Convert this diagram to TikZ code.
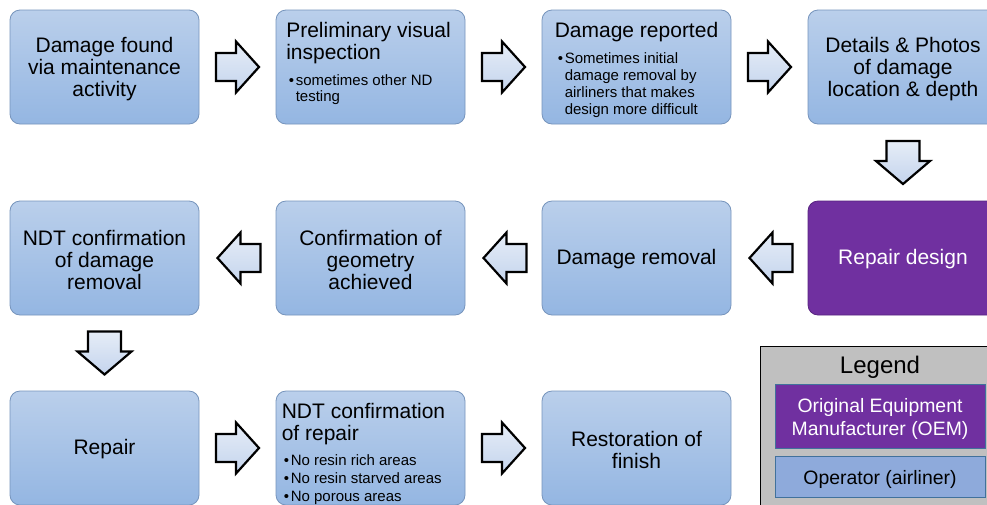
\documentclass[tikz,border=0pt]{standalone}
\usepackage{fontspec}
\setmainfont{Liberation Sans}
\usetikzlibrary{calc}
\definecolor{boxtop}{RGB}{186,207,235}
\definecolor{boxbot}{RGB}{148,182,226}
\definecolor{boxborder}{RGB}{118,148,188}
\definecolor{oem}{RGB}{112,48,160}
\definecolor{oemborder}{RGB}{88,36,128}
\definecolor{arrtop}{RGB}{230,237,247}
\definecolor{arrbot}{RGB}{196,212,237}
\definecolor{leggray}{RGB}{192,192,192}
\definecolor{legborder}{RGB}{65,113,156}
\definecolor{operfill}{RGB}{142,170,219}
\newcommand{\bigtxt}{\fontsize{21}{22}\selectfont}
\newcommand{\smtxt}{\fontsize{15}{16.4}\selectfont}
\newcommand{\bl}{\makebox[7pt][l]{\textbullet}}
\newcommand{\barrow}[4]{%
  \begin{scope}[shift={(#1)},rotate=#2]
    \draw[blockarr] (-21.5,-#3) -- (-1.5,-#3) -- (-1.5,-#4) -- (21.5,0) -- (-1.5,#4) -- (-1.5,#3) -- (-21.5,#3) -- cycle;
  \end{scope}}
\begin{document}
\begin{tikzpicture}[x=1pt,y=-1pt,
  bluebox/.style={draw=boxborder, line width=0.8pt, rounded corners=10pt,
    top color=boxtop, bottom color=boxbot, minimum width=189pt,
    minimum height=114pt, inner sep=0pt},
  purplebox/.style={draw=oemborder, line width=0.8pt, rounded corners=10pt,
    fill=oem, minimum width=190pt, minimum height=114pt, inner sep=0pt},
  ctxt/.style={inner sep=0pt, align=center, font=\bigtxt},
  ttl/.style={anchor=north west, inner sep=0pt, font=\bigtxt},
  bul/.style={anchor=north west, inner sep=0pt, font=\smtxt},
  blockarr/.style={draw=black, line width=2.2pt, line join=miter,
    top color=arrtop, bottom color=arrbot}]
\useasboundingbox (0,0) rectangle (987,504);
\clip (0,0) rectangle (987,504);
\fill[white] (0,0) rectangle (987,504);

% row 1
\node[bluebox] (b1) at (104.5,67) {};
\node[ctxt] (b1t) at ($(b1)+(0,2)$) {Damage found\\via maintenance\\activity};
\node[bluebox] (b2) at (370.5,67) {};
\node[ttl] (t2) at ($(b2.north west)+(10.5,12.6)$) {\begin{tabular}{@{}l@{}}Preliminary visual\\inspection\end{tabular}};
\node[bul] (l2) at ($(b2.north west)+(13,64.3)$) {\begin{tabular}{@{}l@{}l@{}}\bl&sometimes other ND\\&testing\end{tabular}};
\node[bluebox] (b3) at (636.5,67) {};
\node[ttl] (t3) at ($(b3.north west)+(13,12)$) {\begin{tabular}{@{}l@{}}Damage reported\end{tabular}};
\node[bul] (l3) at ($(b3.north west)+(16,41.5)$) {\fontsize{15}{17.2}\selectfont\begin{tabular}{@{}l@{}l@{}}\bl&Sometimes initial\\&damage removal by\\&airliners that makes\\&design more difficult\end{tabular}};
\node[bluebox, minimum width=190pt] (b4) at (903,67) {};
\node[ctxt] (b4t) at ($(b4)+(0,2)$) {Details \& Photos\\of damage\\location \& depth};

% row 2
\node[purplebox] (b5) at (903,258) {};
\node[ctxt, text=white] (b5t) at ($(b5)+(0,1.5)$) {Repair design};
\node[bluebox] (b6) at (636.5,258) {};
\node[ctxt] (b6t) at ($(b6)+(0,1.5)$) {Damage removal};
\node[bluebox] (b7) at (370.5,258) {};
\node[ctxt] (b7t) at ($(b7)+(0,2)$) {Confirmation of\\geometry\\achieved};
\node[bluebox] (b8) at (104.5,258) {};
\node[ctxt] (b8t) at ($(b8)+(0,2)$) {NDT confirmation\\of damage\\removal};

% row 3
\node[bluebox] (b9) at (104.5,448) {};
\node[ctxt] (b9t) at ($(b9)+(0,1.5)$) {Repair};
\node[bluebox] (b10) at (370.5,448) {};
\node[ttl] (t10) at ($(b10.north west)+(6,12)$) {\begin{tabular}{@{}l@{}}NDT confirmation\\of repair\end{tabular}};
\node[bul] (l10) at ($(b10.north west)+(8,63)$) {\begin{tabular}{@{}l@{}l@{}}\bl&No resin rich areas\\[1.6pt]\bl&No resin starved areas\\[1.6pt]\bl&No porous areas\end{tabular}};
\node[bluebox] (b11) at (636.5,448) {};
\node[ctxt] (b11t) at ($(b11)+(0,2)$) {Restoration of\\finish};

% arrow positions
\coordinate (m12) at ($(b1.east)!0.5!(b2.west)$);
\coordinate (m23) at ($(b2.east)!0.5!(b3.west)$);
\coordinate (m34) at ($(b3.east)!0.5!(b4.west)$);
\coordinate (m45) at ($(b4.south)!0.5!(b5.north)$);
\coordinate (m56) at ($(b5.west)!0.5!(b6.east)+(1.5,0)$);
\coordinate (m67) at ($(b6.west)!0.5!(b7.east)+(1.5,0)$);
\coordinate (m78) at ($(b7.west)!0.5!(b8.east)+(1.5,0)$);
\coordinate (m89) at ($(b8.south)!0.5!(b9.north)$);
\coordinate (m910) at ($(b9.east)!0.5!(b10.west)$);
\coordinate (m1011) at ($(b10.east)!0.5!(b11.west)$);

\barrow{m12}{0}{14}{25.5}
\barrow{m23}{0}{14}{25.5}
\barrow{m34}{0}{14}{25.5}
\barrow{m45}{-90}{16.5}{27}
\barrow{m56}{180}{14}{25.5}
\barrow{m67}{180}{14}{25.5}
\barrow{m78}{180}{14}{25.5}
\barrow{m89}{-90}{16.5}{27}
\barrow{m910}{0}{14}{25.5}
\barrow{m1011}{0}{14}{25.5}

% legend
\node[draw=black, line width=1pt, fill=leggray, anchor=north west,
  minimum width=240pt, minimum height=170pt, inner sep=0pt] (leg) at (760,346) {};
\node[anchor=base, inner sep=0pt, font=\fontsize{24}{26}\selectfont] (legt) at (880,373) {Legend};
\node[draw=legborder, line width=1pt, fill=oem, minimum width=210pt,
  minimum height=64pt, inner sep=0pt] (lo) at (880,416) {};
\node[ctxt, text=white, font=\fontsize{19.4}{23}\selectfont] (lot) at ($(lo)+(0,2.5)$) {Original Equipment\\Manufacturer (OEM)};
\node[draw=legborder, line width=1pt, fill=operfill, minimum width=210pt,
  minimum height=41pt, inner sep=0pt] (lp) at (880,476.5) {};
\node[ctxt, font=\fontsize{19.4}{23}\selectfont] (lpt) at ($(lp)+(0,2.5)$) {Operator (airliner)};
\end{tikzpicture}
\end{document}
